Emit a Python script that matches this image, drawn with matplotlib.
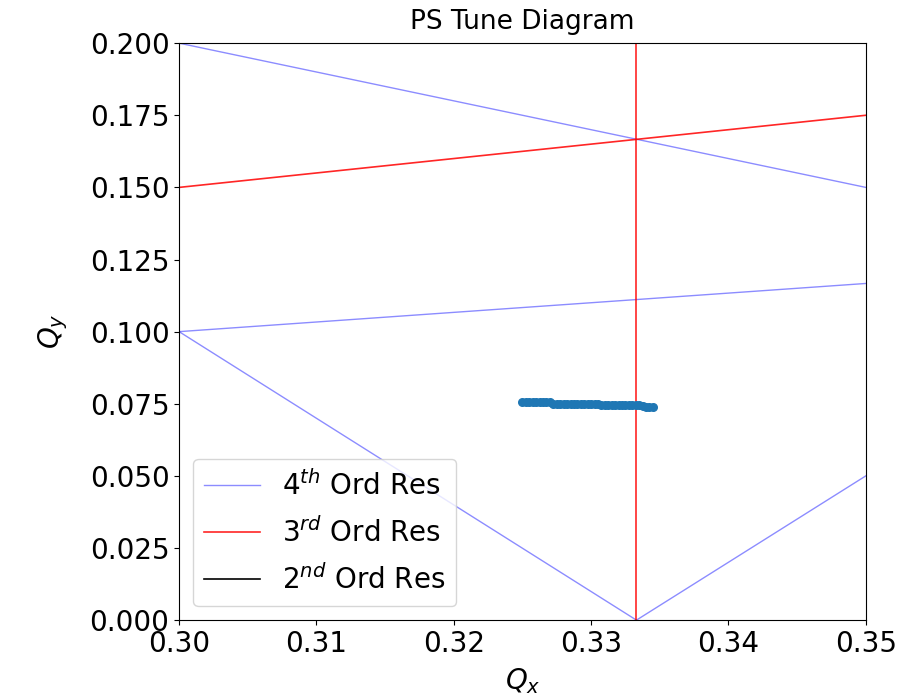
import matplotlib
matplotlib.use("Agg")
import matplotlib.pyplot as plt

# Resonance lines, each given by its two end points (Qx pair, Qy pair)
res4_qx = [(0.30, 0.35), (0.30, 0.35), (0.30, 0.3333), (0.3333, 0.35)]
res4_qy = [(0.20, 0.15), (0.10, 0.1167), (0.10, 0.0), (0.0, 0.05)]
res3_qx = [(0.30, 0.35), (0.3333, 0.3333)]
res3_qy = [(0.15, 0.175), (0.0, 0.20)]

# Measured working-point tunes
qx = [0.3250, 0.32525, 0.3255, 0.32575, 0.3260, 0.32625, 0.3265, 0.32675, 0.3270,
      0.32725, 0.3275, 0.32775, 0.3280, 0.32825, 0.3285, 0.32875, 0.3290, 0.32925,
      0.3295, 0.32975, 0.3300, 0.33025, 0.3305, 0.33075, 0.3310, 0.33125, 0.3315,
      0.33175, 0.3320, 0.33225, 0.3325, 0.33275, 0.3330, 0.33325, 0.3335, 0.33375,
      0.3340, 0.33425, 0.3345]
qy = [0.0756, 0.0756, 0.0756, 0.0756, 0.0756, 0.0755, 0.0755, 0.0755, 0.0755,
      0.0749, 0.0749, 0.0749, 0.0749, 0.0749, 0.0749, 0.0749, 0.0749, 0.0749,
      0.0749, 0.0749, 0.0749, 0.0749, 0.0749, 0.0744, 0.0744, 0.0744, 0.0744,
      0.0744, 0.0744, 0.0744, 0.0744, 0.0744, 0.0744, 0.0744, 0.0744, 0.0743,
      0.0738, 0.0738, 0.0738]

fig = plt.figure(figsize=(9, 6.96), dpi=100)
ax = fig.add_axes([0.199, 0.109, 0.763, 0.829])

for i, (xs, ys) in enumerate(zip(res4_qx, res4_qy)):
    ax.plot(xs, ys, color="blue", alpha=0.45, lw=1,
            label=r"$4^{th}$ Ord Res" if i == 0 else None)
for i, (xs, ys) in enumerate(zip(res3_qx, res3_qy)):
    ax.plot(xs, ys, color="red", alpha=0.85, lw=1.2,
            label=r"$3^{rd}$ Ord Res" if i == 0 else None)
ax.plot([], [], color="black", lw=1.2, label=r"$2^{nd}$ Ord Res")

ax.scatter(qx, qy, s=30, color="#1f77b4", zorder=3)

ax.set_xlim(0.30, 0.35)
ax.set_ylim(0.0, 0.20)
ax.set_xticks([0.30, 0.31, 0.32, 0.33, 0.34, 0.35])
ax.set_yticks([0.0, 0.025, 0.05, 0.075, 0.1, 0.125, 0.15, 0.175, 0.2])
ax.xaxis.set_major_formatter(matplotlib.ticker.FormatStrFormatter("%.2f"))
ax.yaxis.set_major_formatter(matplotlib.ticker.FormatStrFormatter("%.3f"))
ax.tick_params(labelsize=20)
ax.set_xlabel(r"$Q_x$", fontsize=20, labelpad=6)
ax.set_ylabel(r"$Q_y$", fontsize=20, labelpad=14)
ax.set_title("PS Tune Diagram", fontsize=19, pad=10)
ax.legend(loc="lower left", fontsize=20, labelspacing=0.6)

fig.savefig("out.png", dpi=100)
